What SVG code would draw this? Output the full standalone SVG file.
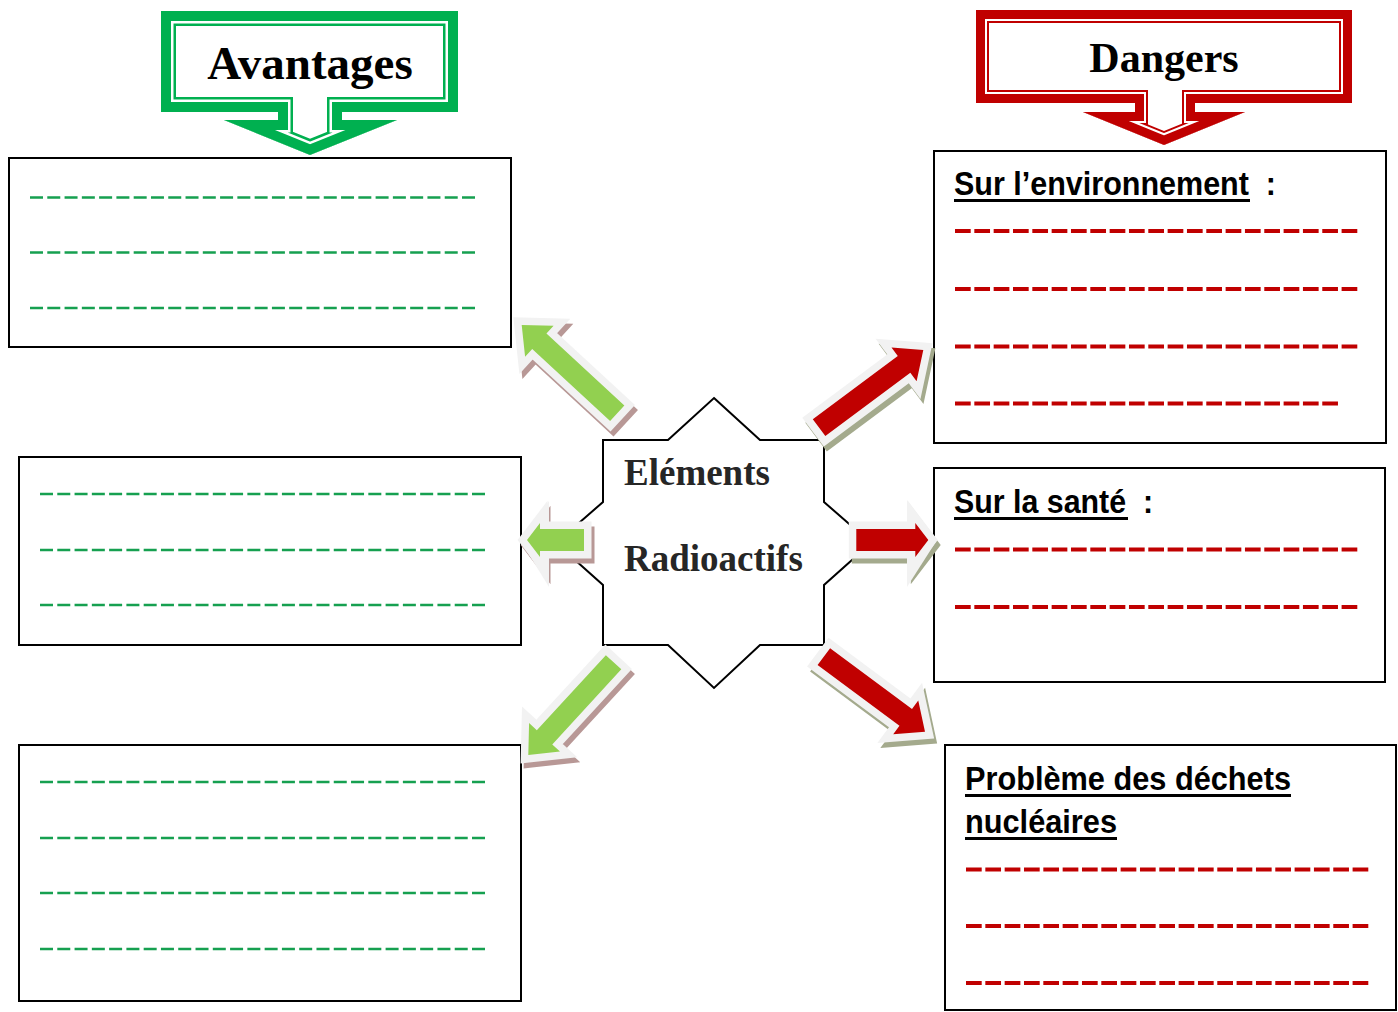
<svg xmlns="http://www.w3.org/2000/svg" width="1398" height="1012" viewBox="0 0 1398 1012">
<style>
.box{fill:#fff;stroke:#000;stroke-width:2}
.gd{stroke:#16A050;stroke-width:2.5;stroke-dasharray:13 4.28;fill:none}
.rd{stroke:#C00000;stroke-width:4;stroke-dasharray:15.7 3.63;fill:none}
.ttl{font-family:"Liberation Sans",Arial,sans-serif;font-weight:bold;font-size:34px;fill:#000}
.ul{text-decoration:underline}
.uline{stroke:#000;stroke-width:3}
.hdr{font-family:"Liberation Serif","Times New Roman",serif;font-weight:bold;fill:#000;text-anchor:middle}
.ctr{font-family:"Liberation Serif","Times New Roman",serif;font-weight:bold;font-size:37px;fill:#262626}
.out{stroke:#F2F2F2;stroke-width:15;stroke-linejoin:miter;paint-order:stroke}
.shG{fill:#B89896;stroke:#B89896;stroke-width:15;stroke-linejoin:miter}
.shR{fill:#A4AA8D;stroke:#A4AA8D;stroke-width:15;stroke-linejoin:miter}
.g{fill:#92D050}
.r{fill:#C00000}
</style>
<defs>
<path id="avP" d="M161,11 H458 V112 H342 V120 H397 L310,155 L224,120 H278 V112 H161 Z"/>
<path id="dgP" d="M976,10 H1352 V103 H1195 V112 H1245 L1164,145 L1083,112 H1135 V103 H976 Z"/>
<clipPath id="avClip"><path d="M161,11 H458 V112 H342 V120 H397 L310,155 L224,120 H278 V112 H161 Z"/></clipPath>
<clipPath id="dgClip"><path d="M976,10 H1352 V103 H1195 V112 H1245 L1164,145 L1083,112 H1135 V103 H976 Z"/></clipPath>
<polygon id="diagL" points="0,0 -24,-21 -24,-10.5 -130,-10.5 -130,10.5 -24,10.5 -24,21"/>
<polygon id="diagS" points="0,0 -24,-21 -24,-10.5 -126,-10.5 -126,10.5 -24,10.5 -24,21"/>
<polygon id="horB" points="0,0 -13,-17 -13,-11 -57,-11 -57,11 -13,11 -13,17"/>
<polygon id="horE" points="0,0 -13,-17 -13,-11 -72,-11 -72,11 -13,11 -13,17"/>
</defs>
<rect width="1398" height="1012" fill="#fff"/>

<g id="avantages">
<use href="#avP" fill="#fff"/>
<g clip-path="url(#avClip)" fill="none">
<use href="#avP" stroke="#00B050" stroke-width="30"/>
<use href="#avP" stroke="#fff" stroke-width="25"/>
<use href="#avP" stroke="#00B050" stroke-width="20"/>
</g>
<text class="hdr" x="310" y="79" font-size="47">Avantages</text>
</g>

<g id="dangers">
<use href="#dgP" fill="#fff"/>
<g clip-path="url(#dgClip)" fill="none">
<use href="#dgP" stroke="#C00000" stroke-width="26"/>
<use href="#dgP" stroke="#fff" stroke-width="22"/>
<use href="#dgP" stroke="#C00000" stroke-width="18"/>
</g>
<text class="hdr" x="1164" y="72" font-size="42">Dangers</text>
</g>

<g id="box-av1">
<rect class="box" x="9" y="158" width="502" height="189"/>
<line class="gd" x1="30" y1="197.5" x2="475" y2="197.5"/>
<line class="gd" x1="30" y1="252.5" x2="475" y2="252.5"/>
<line class="gd" x1="30" y1="308" x2="475" y2="308"/>
</g>

<g id="box-av2">
<rect class="box" x="19" y="457" width="502" height="188"/>
<line class="gd" x1="40" y1="494" x2="485" y2="494"/>
<line class="gd" x1="40" y1="550" x2="485" y2="550"/>
<line class="gd" x1="40" y1="605" x2="485" y2="605"/>
</g>

<g id="box-av3">
<rect class="box" x="19" y="745" width="502" height="256"/>
<line class="gd" x1="40" y1="782" x2="485" y2="782"/>
<line class="gd" x1="40" y1="838" x2="485" y2="838"/>
<line class="gd" x1="40" y1="893" x2="485" y2="893"/>
<line class="gd" x1="40" y1="949" x2="485" y2="949"/>
</g>

<g id="box-env">
<rect class="box" x="934" y="151" width="452" height="292"/>
<text class="ttl" x="954" y="195" textLength="322" lengthAdjust="spacingAndGlyphs">Sur l’environnement &#160;:</text>
<line class="uline" x1="954" y1="200.5" x2="1250" y2="200.5"/>
<line class="rd" x1="955" y1="231" x2="1358" y2="231"/>
<line class="rd" x1="955" y1="289" x2="1358" y2="289"/>
<line class="rd" x1="955" y1="346.5" x2="1358" y2="346.5"/>
<line class="rd" x1="955" y1="403.5" x2="1339" y2="403.5"/>
</g>

<g id="box-sante">
<rect class="box" x="934" y="468" width="451" height="214"/>
<text class="ttl" x="954" y="513" textLength="199" lengthAdjust="spacingAndGlyphs">Sur la santé &#160;:</text>
<line class="uline" x1="954" y1="518.5" x2="1128" y2="518.5"/>
<line class="rd" x1="955" y1="549.5" x2="1358" y2="549.5"/>
<line class="rd" x1="955" y1="607" x2="1358" y2="607"/>
</g>

<g id="box-dechets">
<rect class="box" x="945" y="745" width="451" height="265"/>
<text class="ttl" x="965" y="790" textLength="326" lengthAdjust="spacingAndGlyphs">Problème des déchets</text>
<line class="uline" x1="965" y1="795.5" x2="1291" y2="795.5"/>
<text class="ttl" x="965" y="833" textLength="152" lengthAdjust="spacingAndGlyphs">nucléaires</text>
<line class="uline" x1="965" y1="838.5" x2="1117" y2="838.5"/>
<line class="rd" x1="966" y1="869.5" x2="1370" y2="869.5"/>
<line class="rd" x1="966" y1="926" x2="1370" y2="926"/>
<line class="rd" x1="966" y1="983" x2="1370" y2="983"/>
</g>

<g id="center">
<polygon points="714,398 760,440 824,440 824,502 871,543 824,585 824,645 760,645 714,688 668,645 603,645 603,585 556,543 603,502 603,440 668,440" fill="#fff" stroke="#000" stroke-width="2"/>
<text class="ctr" x="624" y="485">Eléments</text>
<text class="ctr" x="624" y="571">Radioactifs</text>
</g>

<g id="connectors">
<g transform="translate(3,5)">
<use href="#diagL" class="shG" transform="translate(521.7,325) rotate(-137.3)"/>
<use href="#diagS" class="shG" transform="translate(528.3,755) rotate(132.6)"/>
<use href="#horB" class="shG" transform="translate(527,540) rotate(180)"/>
<use href="#diagL" class="shR" transform="translate(923.3,350) rotate(-36.7)"/>
<use href="#diagS" class="shR" transform="translate(925,731.7) rotate(36.6)"/>
<use href="#horE" class="shR" transform="translate(928.3,540)"/>
</g>
<polygon points="549,501 520,540 549,587" fill="#F2F2F2"/>
<polygon points="907,500 937,540 907,587" fill="#F2F2F2"/>
<use href="#diagL" class="out g" transform="translate(521.7,325) rotate(-137.3)"/>
<use href="#diagS" class="out g" transform="translate(528.3,755) rotate(132.6)"/>
<use href="#horB" class="out g" transform="translate(527,540) rotate(180)"/>
<use href="#diagL" class="out r" transform="translate(923.3,350) rotate(-36.7)"/>
<use href="#diagS" class="out r" transform="translate(925,731.7) rotate(36.6)"/>
<use href="#horE" class="out r" transform="translate(928.3,540)"/>
</g>
</svg>
